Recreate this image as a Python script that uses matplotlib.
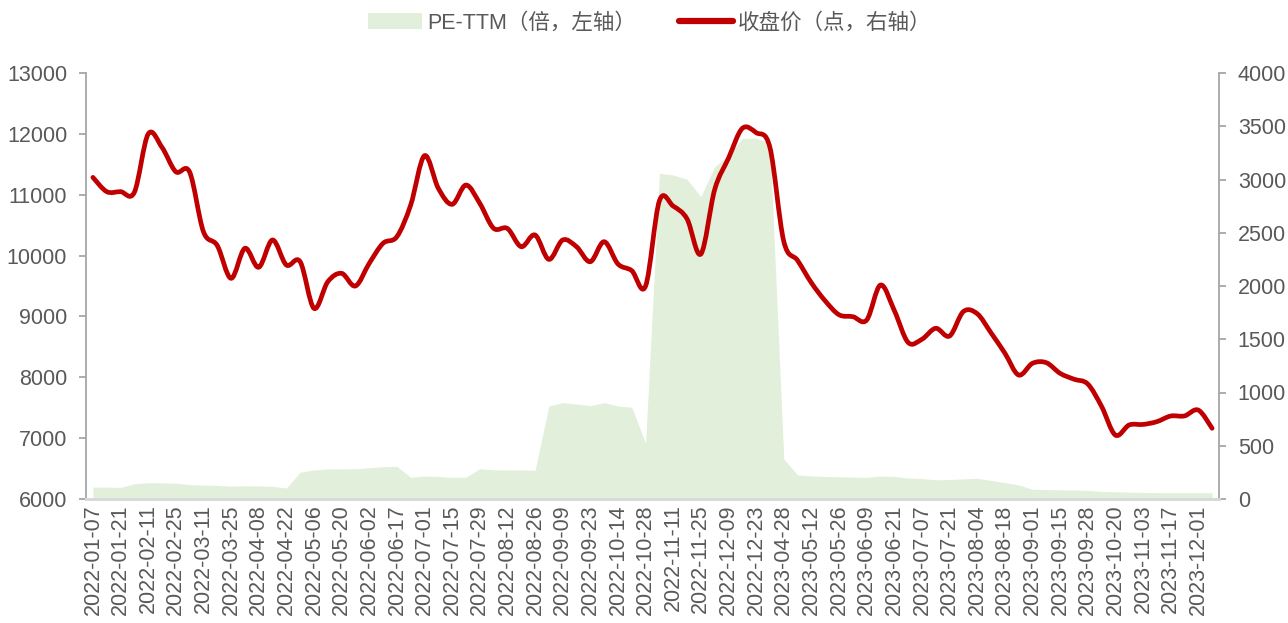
import matplotlib
matplotlib.use("Agg")
import matplotlib.pyplot as plt
from matplotlib.path import Path
from matplotlib.patches import PathPatch, Patch
from matplotlib.lines import Line2D
import numpy as np

plt.rcParams['font.family'] = ['Liberation Sans', 'Noto Sans CJK SC', 'DejaVu Sans']

dates = [
    "2022-01-07", "2022-01-14", "2022-01-21", "2022-01-28", "2022-02-11", "2022-02-18",
    "2022-02-25", "2022-03-04", "2022-03-11", "2022-03-18", "2022-03-25", "2022-04-01",
    "2022-04-08", "2022-04-15", "2022-04-22", "2022-04-29", "2022-05-06", "2022-05-13",
    "2022-05-20", "2022-05-27", "2022-06-02", "2022-06-10", "2022-06-17", "2022-06-24",
    "2022-07-01", "2022-07-08", "2022-07-15", "2022-07-22", "2022-07-29", "2022-08-05",
    "2022-08-12", "2022-08-19", "2022-08-26", "2022-09-02", "2022-09-09", "2022-09-16",
    "2022-09-23", "2022-09-30", "2022-10-14", "2022-10-21", "2022-10-28", "2022-11-04",
    "2022-11-11", "2022-11-18", "2022-11-25", "2022-12-02", "2022-12-09", "2022-12-16",
    "2022-12-23", "2022-12-30", "2023-04-28", "2023-05-05", "2023-05-12", "2023-05-19",
    "2023-05-26", "2023-06-02", "2023-06-09", "2023-06-16", "2023-06-21", "2023-06-30",
    "2023-07-07", "2023-07-14", "2023-07-21", "2023-07-28", "2023-08-04", "2023-08-11",
    "2023-08-18", "2023-08-25", "2023-09-01", "2023-09-08", "2023-09-15", "2023-09-22",
    "2023-09-28", "2023-10-13", "2023-10-20", "2023-10-27", "2023-11-03", "2023-11-10",
    "2023-11-17", "2023-11-24", "2023-12-01", "2023-12-08",
]

pe_ttm = [
    6195, 6195, 6190, 6250, 6268, 6265, 6260, 6235, 6228, 6225,
    6210, 6218, 6215, 6208, 6180, 6440, 6478, 6493, 6495, 6495,
    6515, 6530, 6537, 6356, 6378, 6370, 6356, 6360, 6498, 6480,
    6478, 6476, 6474, 7528, 7583, 7560, 7533, 7583, 7528, 7506,
    6915, 11352, 11324, 11253, 10967, 11460, 11650, 11927, 11927, 11850,
    6660, 6394, 6380, 6370, 6365, 6360, 6356, 6378, 6370, 6345,
    6335, 6315, 6320, 6330, 6340, 6305, 6270, 6230, 6160, 6155,
    6150, 6148, 6140, 6125, 6120, 6112, 6108, 6105, 6104, 6104,
    6104, 6104,
]

close_price = [
    3020, 2886, 2886, 2880, 3427, 3302, 3073, 3070, 2510, 2380,
    2072, 2354, 2176, 2432, 2197, 2228, 1790, 2040, 2119, 2000,
    2213, 2401, 2463, 2761, 3224, 2917, 2767, 2948, 2776, 2542,
    2540, 2369, 2479, 2250, 2432, 2369, 2228, 2416, 2207, 2144,
    2000, 2800, 2750, 2630, 2300, 2905, 3200, 3480, 3440, 3300,
    2420, 2240, 2030, 1860, 1730, 1712, 1680, 2009, 1770, 1470,
    1500, 1603, 1530, 1760, 1740, 1560, 1370, 1164, 1274, 1280,
    1180, 1125, 1080, 870, 600, 695, 700, 726, 779, 780,
    835, 664,
]

legend_labels = ["PE-TTM（倍，左轴）", "收盘价（点，右轴）"]
left_ticks = [6000, 7000, 8000, 9000, 10000, 11000, 12000, 13000]
right_ticks = [0, 500, 1000, 1500, 2000, 2500, 3000, 3500, 4000]

AREA_C = "#E2EFDA"
LINE_C = "#C00000"
TXT_C = "#595959"
AX_C = "#A6A6A6"
FS = 15.5

fig = plt.figure(figsize=(12.88, 6.23), dpi=100)
ax = fig.add_axes([86/1288, 1-499/623, (1219-86)/1288, (499-73)/623])
ax2 = ax.twinx()

x = np.arange(len(dates))
ax.fill_between(x, left_ticks[0], pe_ttm, color=AREA_C, lw=0, zorder=1)
ax.set_ylim(left_ticks[0], left_ticks[-1])
ax.set_yticks(left_ticks)
ax.set_xlim(-0.5, len(dates) - 0.5)
ax.set_xticks(x[::2])
ax.set_xticklabels(dates[::2], rotation=90, fontsize=FS, color=TXT_C)

# smooth (Catmull-Rom style) line through the data points
pts = np.column_stack([x, close_price]).astype(float)
verts = [tuple(pts[0])]
codes = [Path.MOVETO]
n = len(pts)
for i in range(n - 1):
    p0 = pts[i - 1] if i > 0 else pts[i]
    p1 = pts[i]
    p2 = pts[i + 1]
    p3 = pts[i + 2] if i + 2 < n else pts[i + 1]
    c1 = p1 + (p2 - p0) / 6.0
    c2 = p2 - (p3 - p1) / 6.0
    verts += [tuple(c1), tuple(c2), tuple(p2)]
    codes += [Path.CURVE4] * 3
ax2.add_patch(PathPatch(Path(verts, codes), facecolor="none", edgecolor=LINE_C,
                        lw=3.4, capstyle="round", joinstyle="round", zorder=3))
ax2.set_ylim(right_ticks[0], right_ticks[-1])
ax2.set_yticks(right_ticks)

for a in (ax, ax2):
    a.spines["top"].set_visible(False)
    a.spines["left"].set_color(AX_C)
    a.spines["right"].set_color(AX_C)
    a.spines["left"].set_linewidth(1.3)
    a.spines["right"].set_linewidth(1.3)
    a.spines["bottom"].set_color("#D9D9D9")
    a.spines["bottom"].set_linewidth(2)
    a.tick_params(axis="y", labelsize=FS, labelcolor=TXT_C, color=AX_C,
                  length=5, width=1.3, direction="out", pad=8.5)
    a.tick_params(axis="x", length=0, pad=4)
ax2.spines["left"].set_visible(False)
ax.spines["right"].set_visible(False)

handles = [Patch(facecolor=AREA_C, edgecolor="none"),
           Line2D([0], [0], color=LINE_C, lw=4.5, solid_capstyle="round")]
fig.legend(handles, legend_labels, loc="center", bbox_to_anchor=(0.5 + 6/1288, 1 - 23/623),
           ncol=2, frameon=False, fontsize=FS, labelcolor=TXT_C,
           handlelength=2.5, handleheight=0.75, handletextpad=0.25, columnspacing=1.97)

fig.savefig("out.png", dpi=100)
